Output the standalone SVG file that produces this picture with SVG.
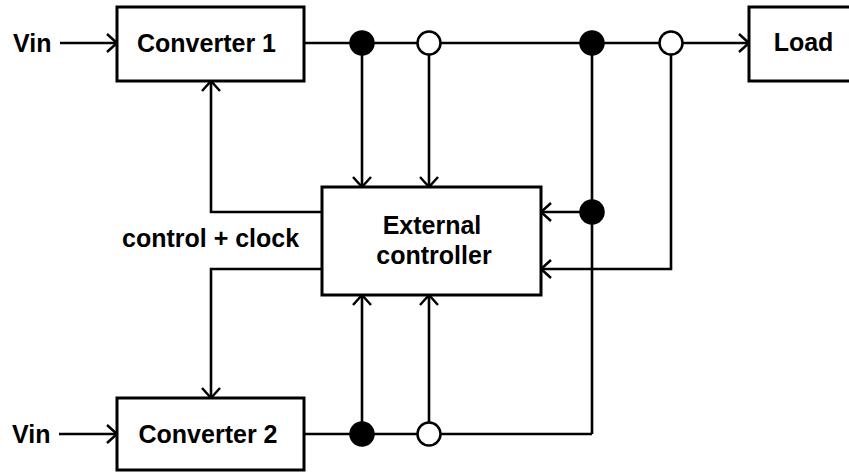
<svg xmlns="http://www.w3.org/2000/svg" width="849" height="473" viewBox="0 0 849 473">
  <style>
    .box { fill: #ffffff; stroke: #000000; stroke-width: 3; }
    .wire { fill: none; stroke: #000000; stroke-width: 2.6; }
    .lbl { font-family: "Liberation Sans", Arial, sans-serif; font-weight: bold; font-size: 25px; fill: #000000; }
    .mid { text-anchor: middle; }
    .dotf { fill: #000000; stroke: #000000; stroke-width: 2.5; }
    .doto { fill: #ffffff; stroke: #000000; stroke-width: 2.5; }
  </style>
  <defs>
    <marker id="arr" markerUnits="userSpaceOnUse" viewBox="-12 -11 14 22" refX="0" refY="0" markerWidth="14" markerHeight="22" orient="auto" overflow="visible">
      <path d="M-10,-9 L0,0 L-10,9" fill="none" stroke="#000000" stroke-width="2.5"/>
    </marker>
  </defs>
  <rect width="849" height="473" fill="#ffffff"/>

  <g id="connectors">
    <path class="wire" d="M60,43 H117" marker-end="url(#arr)"/>
    <path class="wire" d="M304,43 H749" marker-end="url(#arr)"/>
    <path class="wire" d="M362,43 V187" marker-end="url(#arr)"/>
    <path class="wire" d="M429,43 V187" marker-end="url(#arr)"/>
    <path class="wire" d="M592,43 V434"/>
    <path class="wire" d="M592,212 H541" marker-end="url(#arr)"/>
    <path class="wire" d="M671,43 V269 H541" marker-end="url(#arr)"/>
    <path class="wire" d="M322,212 H211 V81" marker-end="url(#arr)"/>
    <path class="wire" d="M322,269 H211 V398" marker-end="url(#arr)"/>
    <path class="wire" d="M59,434 H117" marker-end="url(#arr)"/>
    <path class="wire" d="M304,434 H592"/>
    <path class="wire" d="M362,434 V295" marker-end="url(#arr)"/>
    <path class="wire" d="M429,434 V295" marker-end="url(#arr)"/>
    <circle class="dotf" cx="362" cy="43" r="11.5"/>
    <circle class="doto" cx="429" cy="43" r="11.5"/>
    <circle class="dotf" cx="592" cy="43" r="11.5"/>
    <circle class="doto" cx="671" cy="43" r="11.5"/>
    <circle class="dotf" cx="592" cy="212" r="11.5"/>
    <circle class="dotf" cx="362" cy="434" r="11.5"/>
    <circle class="doto" cx="429" cy="434" r="11.5"/>
  </g>

  <g id="vin1">
    <text class="lbl" x="13" y="52">Vin</text>
  </g>
  <g id="vin2">
    <text class="lbl" x="12" y="443">Vin</text>
  </g>
  <g id="converter1">
    <rect class="box" x="117" y="7" width="187" height="74"/>
    <text class="lbl mid" x="206.5" y="52">Converter 1</text>
  </g>
  <g id="converter2">
    <rect class="box" x="117" y="398" width="187" height="72"/>
    <text class="lbl mid" x="208" y="443">Converter 2</text>
  </g>
  <g id="load">
    <rect class="box" x="749" y="7" width="120" height="74"/>
    <text class="lbl mid" x="803.5" y="51">Load</text>
  </g>
  <g id="controller">
    <rect class="box" x="322" y="187" width="219" height="108"/>
    <text class="lbl mid" x="432" y="234">External</text>
    <text class="lbl mid" x="434" y="264">controller</text>
  </g>
  <g id="label-control-clock">
    <text class="lbl" x="122" y="247">control + clock</text>
  </g>
</svg>
